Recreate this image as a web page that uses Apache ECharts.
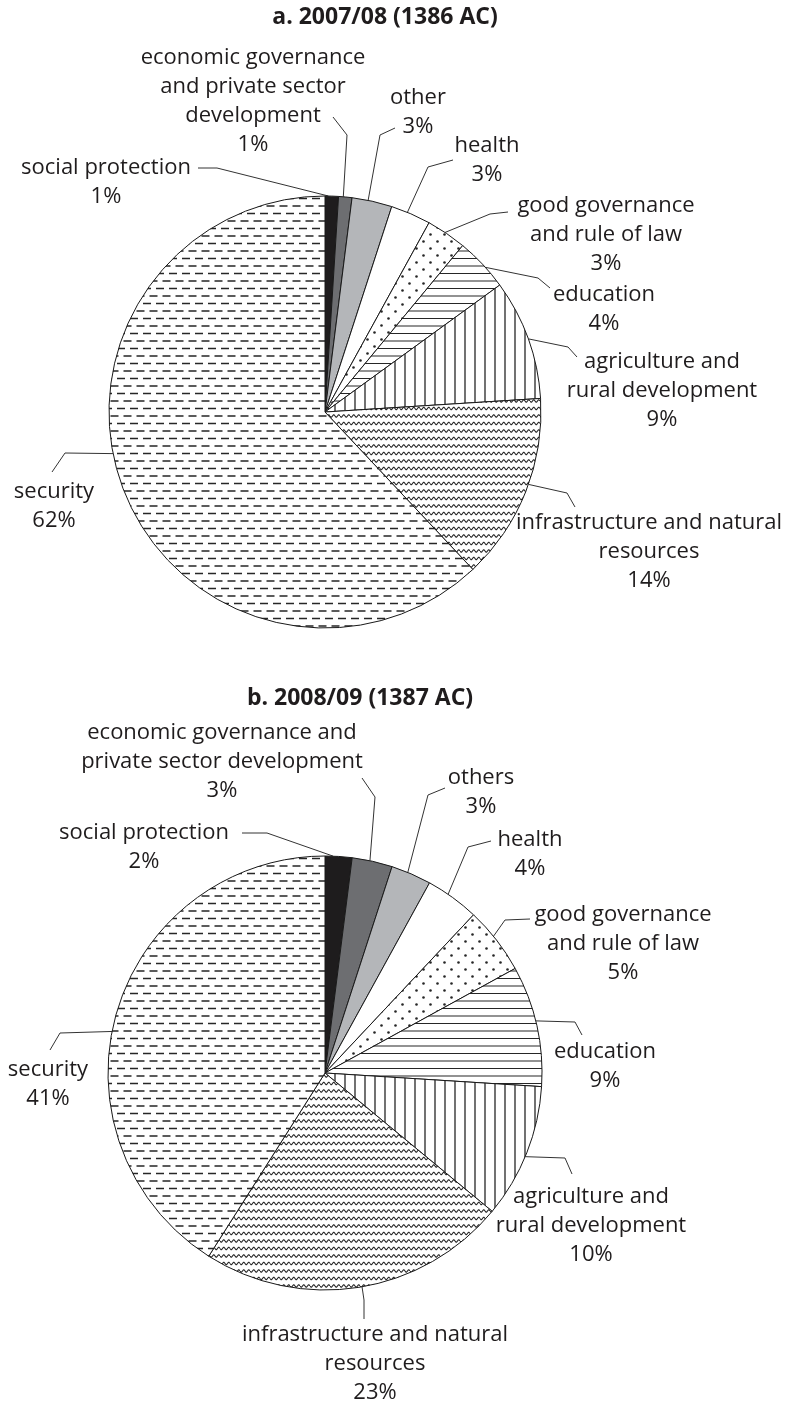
<!DOCTYPE html>
<html>
<head>
<meta charset="utf-8">
<script src="https://cdn.jsdelivr.net/npm/echarts@6/dist/echarts.min.js"></script>
<style>
  html, body { margin: 0; padding: 0; background: #fff; }
  #main { width: 785px; height: 1406px; }
</style>
</head>
<body>
<div id="main"></div>
<script>
// shares of total budget by sector, clockwise from 12 o'clock
const sectors2007 = ['social protection', 'economic governance\nand private sector\ndevelopment', 'other', 'health',
  'good governance\nand rule of law', 'education', 'agriculture and\nrural development',
  'infrastructure and natural\nresources', 'security'];
const shares2007 = [1, 1, 3, 3, 3, 4, 9, 14, 62];

const sectors2008 = ['social protection', 'economic governance and\nprivate sector development', 'others', 'health',
  'good governance\nand rule of law', 'education', 'agriculture and\nrural development',
  'infrastructure and natural\nresources', 'security'];
const shares2008 = [2, 3, 3, 4, 5, 9, 10, 23, 41];

const titles = ['a. 2007/08 (1386 AC)', 'b. 2008/09 (1387 AC)'];

// label placement (text centre x, first line y), where the leader leaves the slice, and its bend
const place2007 = [
  { x: 106, y: 168, at: 0.25, bend: [217, 168], end: [198, 168] },
  { x: 253, y: 58,  at: 0.35, bend: [347, 135], end: [333, 117] },
  { x: 418, y: 98,  at: 0.4,  bend: [380, 135], end: [395, 128] },
  { x: 487, y: 146, at: 0.41, bend: [428, 167], end: [453, 160] },
  { x: 606, y: 206, at: 0.46, bend: [490, 214], end: [508, 212] },
  { x: 604, y: 295, at: 0.58, bend: [538, 278], end: [550, 288] },
  { x: 662, y: 362, at: 0.5,  bend: [568, 347], end: [577, 357] },
  { x: 649, y: 523, at: 0.46, bend: [567, 493], end: [575, 507] },
  { x: 54,  y: 492, at: 0.547, bend: [65, 453], end: [52, 472] }
];
const place2008 = [
  { x: 144, y: 833, at: 0.3,  bend: [267, 833], end: [242, 833] },
  { x: 222, y: 733, at: 0.44, bend: [375, 797], end: [362, 778] },
  { x: 481, y: 778, at: 0.41, bend: [428, 795], end: [445, 788] },
  { x: 530, y: 840, at: 0.4,  bend: [468, 847], end: [491, 841] },
  { x: 623, y: 915, at: 0.43, bend: [505, 920], end: [530, 919] },
  { x: 605, y: 1052, at: 0.46, bend: [575, 1022], end: [582, 1035] },
  { x: 591, y: 1197, at: 0.53, bend: [565, 1158], end: [572, 1174] },
  { x: 375, y: 1335, at: 0.49, bend: [364, 1300], end: [364, 1319] },
  { x: 48,  y: 1070, at: 0.465, bend: [60, 1033], end: [50, 1050] }
];

const LH = 29;
const INK = '#262626';

function tile(w, h, draw) {
  const c = document.createElement('canvas');
  c.width = w; c.height = h;
  const g = c.getContext('2d');
  g.fillStyle = '#fff';
  g.fillRect(0, 0, w, h);
  g.strokeStyle = INK;
  g.fillStyle = INK;
  draw(g);
  return { image: c, repeat: 'repeat' };
}

const dashes = tile(13, 15, g => {
  g.lineWidth = 1.7;
  g.beginPath();
  g.moveTo(0, 3.5); g.lineTo(8, 3.5);
  g.moveTo(6.5, 11); g.lineTo(13, 11);
  g.moveTo(0, 11); g.lineTo(1.5, 11);
  g.stroke();
});
const waves = tile(10, 15, g => {
  g.lineWidth = 1.1;
  [3.5, 11].forEach(y0 => {
    g.beginPath();
    for (let x = 0; x <= 10; x += 0.5) {
      const y = y0 + 1.3 * Math.sin(2 * Math.PI * x / 5);
      if (x === 0) g.moveTo(x, y); else g.lineTo(x, y);
    }
    g.stroke();
  });
});
const vlines = tile(10, 10, g => {
  g.lineWidth = 1.3;
  g.beginPath(); g.moveTo(5, 0); g.lineTo(5, 10); g.stroke();
});
const hlines = tile(10, 15, g => {
  g.lineWidth = 1.2;
  g.beginPath();
  g.moveTo(0, 3.5); g.lineTo(10, 3.5);
  g.moveTo(0, 11); g.lineTo(10, 11);
  g.stroke();
});
const dots = tile(14, 14, g => {
  [[3.5, 3.5], [10.5, 10.5]].forEach(p => {
    g.beginPath(); g.arc(p[0], p[1], 1.3, 0, Math.PI * 2); g.fill();
  });
});

const fills = ['#1e1c1d', '#6d6e71', '#b4b6b9', '#ffffff', dots, hlines, vlines, waves, dashes];

const pies = [
  { names: sectors2007, values: shares2007, place: place2007, center: [325, 412], r: 216 },
  { names: sectors2008, values: shares2008, place: place2008, center: [325, 1073], r: 217 }
];

function edgePoint(pie, i, at) {
  const total = pie.values.reduce((a, b) => a + b, 0);
  let before = 0;
  for (let k = 0; k < i; k++) before += pie.values[k];
  const a = (before + pie.values[i] * at) / total * Math.PI * 2;
  return [pie.center[0] + pie.r * Math.sin(a), pie.center[1] - pie.r * Math.cos(a)];
}

const chart = echarts.init(document.getElementById('main'));

const option = {
  animation: false,
  backgroundColor: '#fff',
  graphic: [
    { type: 'text', x: 385, y: 17, style: { text: titles[0], fill: '#1f1c1d', font: 'bold 23px "Open Sans"', align: 'center', verticalAlign: 'middle' } },
    { type: 'text', x: 360, y: 698, style: { text: titles[1], fill: '#1f1c1d', font: 'bold 23px "Open Sans"', align: 'center', verticalAlign: 'middle' } }
  ],
  series: pies.map((pie, s) => ({
    type: 'pie',
    center: pie.center,
    radius: pie.r,
    startAngle: 90,
    clockwise: true,
    avoidLabelOverlap: false,
    silent: true,
    itemStyle: { borderColor: '#1a1a1a', borderWidth: 1 },
    label: {
      show: true,
      position: 'outside',
      formatter: '{b}\n{c}%',
      fontFamily: 'Open Sans',
      fontSize: 22,
      lineHeight: LH,
      color: '#1f1c1d',
      align: 'center'
    },
    labelLine: { show: true, lineStyle: { color: '#333', width: 1 } },
    labelLayout: function (params) {
      const p = pie.place[params.dataIndex];
      return {
        x: p.x,
        y: p.y - LH / 2,
        align: 'center',
        verticalAlign: 'top',
        labelLinePoints: [edgePoint(pie, params.dataIndex, p.at), p.bend, p.end]
      };
    },
    data: pie.names.map((n, i) => ({ name: n, value: pie.values[i], itemStyle: { color: fills[i] } }))
  }))
};

chart.setOption(option);
</script>
</body>
</html>
